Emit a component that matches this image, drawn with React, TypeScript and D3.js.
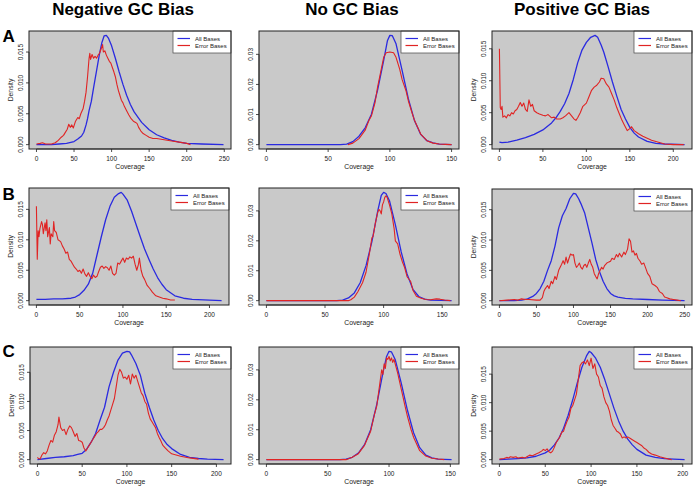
import React from "react";
import * as d3 from "d3";

type Pt = [number, number];

const COLUMN_TITLES = ["Negative GC Bias", "No GC Bias", "Positive GC Bias"];
const ROW_LABELS = ["A", "B", "C"];
const LEGEND_LABELS = ["All Bases", "Error Bases"];
const X_LABEL = "Coverage";
const Y_LABEL = "Density";

const X_TICKS_150 = [0, 50, 100, 150];
const X_TICKS_200 = [0, 50, 100, 150, 200];
const X_TICKS_250 = [0, 50, 100, 150, 200, 250];
const Y_TICKS_SMALL = [0, 0.005, 0.01, 0.015];
const Y_TICKS_LARGE = [0, 0.01, 0.02, 0.03];

// ---------- Row A ----------
const negA_all: Pt[] = [[0,0],[20,0],[30,0.0001],[40,0.0002],[50,0.0005],[55,0.0009],[60,0.0014],[63,0.002],[66,0.0032],[68,0.0042],[70,0.0055],[73,0.007],[76,0.0092],[80,0.012],[84,0.0148],[87,0.0165],[90,0.0176],[93,0.0177],[96,0.0172],[100,0.016],[105,0.014],[110,0.0118],[115,0.0098],[120,0.008],[125,0.0065],[130,0.0053],[140,0.0036],[150,0.0024],[160,0.0016],[170,0.0011],[180,0.0007],[190,0.0004],[200,0.0002],[220,0.0001],[249,0]];
const negA_err: Pt[] = [[0,0.0001],[5,0.0002],[8,0.0003],[12,0.0001],[20,0.0001],[25,0.0003],[29,0.0007],[33,0.0012],[36,0.0015],[38,0.0019],[41,0.0025],[43,0.0033],[45,0.0028],[47,0.0032],[49,0.0027],[52,0.0038],[55,0.0044],[57,0.0042],[59,0.005],[62,0.0058],[64,0.007],[66,0.0085],[68,0.011],[70,0.014],[71,0.0148],[72,0.0138],[74,0.0146],[76,0.014],[78,0.0143],[80,0.014],[82,0.0145],[84,0.0148],[86,0.0155],[88,0.0162],[89,0.015],[91,0.0152],[93,0.0145],[95,0.014],[97,0.0135],[99,0.0132],[101,0.0125],[103,0.0118],[105,0.011],[107,0.0098],[109,0.0088],[111,0.008],[113,0.0072],[115,0.0068],[117,0.0062],[120,0.0055],[123,0.0048],[126,0.0042],[129,0.0038],[132,0.0036],[134,0.0034],[136,0.0028],[139,0.0022],[142,0.0018],[146,0.0015],[150,0.0012],[155,0.001],[160,0.001],[170,0.0008],[180,0.0006],[190,0.0004],[200,0.0002],[205,0]];

const noA_all: Pt[] = [[0,0],[30,0],[60,0],[65,0.0002],[70,0.001],[75,0.0028],[80,0.0056],[85,0.01],[90,0.018],[95,0.028],[98,0.0345],[100,0.0363],[102,0.0362],[105,0.0335],[110,0.0245],[115,0.0152],[120,0.0079],[125,0.0034],[130,0.0013],[135,0.0006],[140,0.0002],[150,0]];
const noA_err: Pt[] = [[66,0],[70,0.0005],[75,0.002],[80,0.0048],[83,0.008],[85,0.0095],[88,0.014],[90,0.019],[93,0.025],[95,0.029],[97,0.0305],[100,0.0308],[103,0.0305],[105,0.029],[108,0.025],[110,0.0215],[113,0.018],[115,0.0145],[118,0.0105],[120,0.008],[125,0.0035],[130,0.0013],[135,0.0005],[140,0.0002],[145,0.0001],[150,0]];

const posA_all: Pt[] = [[0,0.0004],[3,0.0003],[10,0.0004],[20,0.0007],[30,0.0011],[40,0.0016],[50,0.0023],[60,0.0034],[65,0.0042],[70,0.0052],[75,0.0064],[80,0.008],[85,0.0102],[90,0.0128],[95,0.0148],[100,0.016],[105,0.0168],[110,0.0171],[113,0.0168],[117,0.0156],[120,0.0145],[125,0.0122],[130,0.0098],[135,0.0076],[140,0.0055],[145,0.004],[150,0.0027],[155,0.0018],[160,0.0012],[170,0.0005],[180,0.0002],[190,0.0001],[213,0]];
const posA_err: Pt[] = [[0,0.015],[1,0.0058],[2,0.0055],[3,0.006],[4,0.0043],[6,0.0045],[8,0.0042],[10,0.0047],[12,0.0045],[14,0.005],[16,0.0048],[18,0.0053],[20,0.0055],[22,0.006],[24,0.0066],[26,0.006],[28,0.0065],[30,0.0055],[32,0.0052],[34,0.007],[36,0.006],[38,0.0063],[40,0.0053],[43,0.005],[46,0.0048],[50,0.0046],[53,0.0045],[56,0.0047],[60,0.0042],[63,0.0043],[66,0.004],[70,0.004],[73,0.0042],[76,0.0045],[80,0.005],[83,0.0045],[86,0.004],[88,0.0038],[90,0.0042],[93,0.005],[96,0.006],[100,0.0065],[103,0.0075],[106,0.0085],[109,0.009],[112,0.0093],[115,0.0098],[117,0.0104],[120,0.0103],[123,0.0095],[126,0.009],[129,0.008],[132,0.007],[135,0.0058],[138,0.0048],[141,0.0038],[144,0.003],[147,0.0022],[150,0.0025],[152,0.0028],[155,0.0022],[160,0.0017],[165,0.0013],[170,0.001],[175,0.0007],[180,0.0005],[185,0.0003],[190,0.0001],[200,0],[212,0]];

// ---------- Row B ----------
const negB_all: Pt[] = [[0,0.0002],[10,0.0002],[20,0.0003],[30,0.0003],[40,0.0004],[45,0.0006],[50,0.001],[55,0.0017],[60,0.0027],[65,0.0045],[70,0.0075],[75,0.0105],[80,0.0133],[85,0.0155],[90,0.017],[95,0.0176],[98,0.0178],[100,0.0175],[105,0.0165],[110,0.0147],[115,0.0126],[120,0.0105],[125,0.0085],[130,0.0068],[135,0.0052],[140,0.0038],[145,0.0027],[150,0.0018],[160,0.0008],[170,0.0004],[180,0.0002],[200,0.0001],[214,0]];
const negB_err: Pt[] = [[0,0.0155],[1,0.0068],[2,0.0115],[3,0.0105],[4,0.0118],[6,0.013],[7,0.0125],[8,0.011],[10,0.0128],[11,0.0115],[12,0.0133],[13,0.0105],[15,0.012],[16,0.0093],[17,0.011],[19,0.0105],[20,0.013],[21,0.0115],[23,0.0112],[25,0.01],[28,0.0097],[30,0.009],[32,0.0085],[34,0.0078],[36,0.008],[38,0.0068],[40,0.0065],[42,0.006],[44,0.0055],[46,0.0052],[48,0.0048],[50,0.005],[52,0.0045],[54,0.0052],[56,0.0044],[58,0.004],[60,0.0046],[62,0.004],[64,0.0036],[66,0.0042],[68,0.0038],[70,0.004],[72,0.0048],[74,0.0055],[76,0.0057],[78,0.0053],[80,0.0056],[82,0.0054],[84,0.005],[86,0.0057],[88,0.0045],[90,0.0042],[92,0.0045],[94,0.0062],[96,0.006],[98,0.0065],[100,0.007],[102,0.0063],[104,0.007],[106,0.0068],[108,0.0072],[110,0.007],[112,0.0073],[114,0.006],[116,0.005],[118,0.006],[119,0.007],[121,0.005],[123,0.004],[125,0.0035],[128,0.0025],[131,0.002],[134,0.0014],[138,0.0008],[142,0.0006],[146,0.0004],[150,0.0003],[155,0.0001],[160,0.0001]];

const noB_all: Pt[] = [[0,0],[30,0],[60,0],[65,0.0002],[70,0.0009],[75,0.0026],[80,0.006],[85,0.0117],[90,0.0197],[95,0.03],[98,0.0352],[100,0.0362],[102,0.0358],[105,0.0334],[110,0.0254],[115,0.0163],[120,0.0089],[125,0.0038],[130,0.0014],[135,0.0005],[140,0.0002],[158,0]];
const noB_err: Pt[] = [[0,0],[30,0],[70,0],[72,0.0003],[75,0.0012],[78,0.003],[80,0.0045],[82,0.006],[85,0.0095],[88,0.016],[90,0.021],[91,0.0215],[93,0.026],[95,0.0295],[96,0.0305],[97,0.03],[98,0.029],[99,0.032],[100,0.033],[101,0.0345],[102,0.035],[103,0.0345],[105,0.032],[107,0.029],[109,0.024],[110,0.02],[112,0.019],[114,0.0155],[116,0.013],[118,0.011],[120,0.008],[121,0.0075],[123,0.0065],[125,0.0035],[128,0.0015],[132,0.0008],[136,0.0004],[140,0.0003],[145,0.0006],[148,0.0005],[152,0.0002],[157,0]];

const posB_all: Pt[] = [[0,0],[20,0],[30,0.0001],[38,0.0003],[45,0.0007],[50,0.0012],[55,0.002],[60,0.0032],[65,0.005],[70,0.0066],[75,0.009],[80,0.012],[85,0.014],[90,0.0152],[95,0.0168],[100,0.0177],[103,0.0176],[107,0.0168],[110,0.016],[115,0.0145],[120,0.012],[125,0.0095],[130,0.0068],[135,0.0048],[140,0.0032],[145,0.002],[150,0.0012],[155,0.0008],[160,0.0006],[170,0.0004],[180,0.0003],[200,0.0002],[220,0.0001],[250,0]];
const posB_err: Pt[] = [[0,0],[10,0.0001],[20,0.0002],[25,0.0001],[30,0.0003],[35,0.0002],[40,0.0002],[50,0.0001],[55,0.0001],[58,0.0005],[60,0.0015],[62,0.002],[65,0.0025],[67,0.002],[70,0.0032],[72,0.0028],[75,0.004],[77,0.0035],[80,0.005],[82,0.0055],[84,0.006],[86,0.0066],[88,0.006],[90,0.0072],[92,0.0062],[94,0.007],[96,0.0077],[98,0.0075],[100,0.0076],[102,0.0062],[104,0.0055],[106,0.0058],[108,0.0062],[110,0.0055],[112,0.0052],[114,0.0058],[116,0.006],[118,0.0055],[120,0.0062],[122,0.0068],[124,0.006],[126,0.0055],[128,0.0045],[130,0.004],[132,0.0036],[134,0.0045],[136,0.005],[138,0.0055],[140,0.0052],[142,0.0058],[145,0.0062],[148,0.0064],[150,0.0065],[152,0.007],[155,0.0068],[158,0.0076],[160,0.0072],[162,0.0078],[165,0.0072],[168,0.008],[170,0.0076],[173,0.0085],[175,0.0102],[177,0.0098],[179,0.008],[181,0.0082],[183,0.0075],[185,0.0078],[187,0.007],[190,0.0065],[192,0.006],[195,0.0062],[198,0.0052],[200,0.0045],[203,0.004],[206,0.0028],[210,0.0025],[213,0.0022],[216,0.0015],[220,0.0012],[223,0.0006],[226,0.0005],[230,0.0003],[235,0.0002],[240,0.0001],[245,0]];

// ---------- Row C ----------
const negC_all: Pt[] = [[0,0],[10,0.0002],[20,0.0004],[30,0.0005],[40,0.0007],[45,0.0009],[50,0.0011],[55,0.0018],[60,0.003],[65,0.0045],[70,0.0068],[75,0.009],[80,0.0125],[85,0.015],[90,0.0171],[95,0.0183],[100,0.0186],[103,0.0185],[105,0.018],[110,0.0165],[115,0.0145],[120,0.0114],[125,0.009],[130,0.0068],[135,0.005],[140,0.0036],[145,0.0026],[150,0.0019],[160,0.0009],[170,0.0004],[180,0.0002],[190,0.0001],[208,0]];
const negC_err: Pt[] = [[0,0.0004],[1,0.0002],[3,0.0001],[5,0.0008],[7,0.0012],[9,0.001],[11,0.0015],[13,0.0025],[15,0.0033],[17,0.003],[19,0.0042],[21,0.0048],[23,0.006],[24,0.0073],[26,0.0055],[28,0.005],[30,0.0052],[32,0.0043],[34,0.0052],[36,0.0058],[38,0.0055],[40,0.0048],[42,0.004],[44,0.0045],[46,0.0033],[48,0.0032],[50,0.003],[52,0.002],[54,0.0015],[56,0.002],[58,0.0025],[60,0.003],[62,0.0035],[64,0.004],[66,0.0045],[68,0.0048],[70,0.0052],[72,0.0052],[74,0.0055],[76,0.006],[78,0.0068],[80,0.0075],[82,0.0085],[84,0.0095],[86,0.0105],[88,0.0125],[90,0.0145],[92,0.0155],[94,0.015],[96,0.014],[98,0.0142],[100,0.0138],[102,0.0145],[104,0.013],[106,0.0147],[108,0.014],[110,0.0145],[112,0.0135],[114,0.0125],[116,0.0115],[118,0.011],[120,0.01],[122,0.0095],[124,0.008],[126,0.007],[128,0.0065],[130,0.006],[132,0.0055],[134,0.0045],[136,0.0038],[138,0.0032],[140,0.0025],[143,0.002],[146,0.0015],[150,0.001],[155,0.0008],[160,0.0006],[170,0.0003],[180,0.0001]];

const noC_all: Pt[] = [[0,0],[30,0],[60,0],[65,0.0002],[70,0.0008],[75,0.0022],[80,0.005],[85,0.01],[90,0.0185],[95,0.029],[98,0.0345],[100,0.0362],[102,0.036],[105,0.0335],[110,0.0255],[115,0.0165],[120,0.009],[125,0.004],[130,0.0015],[135,0.0006],[140,0.0002],[145,0.0001],[151,0]];
const noC_err: Pt[] = [[0,0],[30,0],[65,0],[70,0.0008],[75,0.002],[80,0.0048],[85,0.0095],[88,0.015],[90,0.018],[92,0.024],[93,0.027],[94,0.03],[95,0.0285],[96,0.032],[97,0.0305],[98,0.034],[99,0.0335],[100,0.0345],[101,0.033],[102,0.034],[103,0.0325],[104,0.0335],[105,0.032],[107,0.029],[110,0.0235],[113,0.018],[115,0.0145],[118,0.01],[120,0.0075],[125,0.003],[130,0.0012],[135,0.0005],[140,0.0002],[145,0]];

const posC_all: Pt[] = [[0,0],[10,0.0001],[20,0.0002],[30,0.0003],[40,0.0006],[50,0.0012],[55,0.0017],[60,0.0026],[65,0.0038],[70,0.0055],[75,0.0078],[80,0.0105],[85,0.0135],[90,0.0162],[95,0.0182],[98,0.019],[100,0.0188],[105,0.0178],[110,0.0162],[115,0.014],[120,0.0115],[125,0.009],[130,0.0068],[135,0.005],[140,0.0036],[145,0.0026],[150,0.0018],[160,0.0008],[170,0.0004],[180,0.0002],[190,0.0001],[202,0]];
const posC_err: Pt[] = [[0,0.0001],[5,0.0002],[8,0.0004],[10,0.0003],[12,0.0005],[15,0.0004],[18,0.0005],[20,0.0003],[25,0.0004],[28,0.0003],[30,0.0005],[33,0.0008],[36,0.0007],[40,0.001],[43,0.0012],[46,0.0015],[48,0.0018],[50,0.0016],[52,0.0019],[54,0.0014],[56,0.0012],[58,0.0015],[60,0.0022],[62,0.003],[64,0.0035],[66,0.004],[68,0.0048],[70,0.005],[72,0.006],[74,0.0068],[76,0.0075],[78,0.009],[80,0.0095],[82,0.0105],[84,0.0115],[86,0.014],[88,0.0165],[90,0.017],[92,0.0172],[94,0.0168],[96,0.0175],[98,0.0165],[100,0.0178],[102,0.016],[104,0.0168],[106,0.015],[108,0.0145],[110,0.013],[112,0.0125],[114,0.011],[116,0.01],[118,0.0095],[120,0.0085],[122,0.007],[124,0.006],[126,0.0055],[128,0.005],[130,0.0048],[132,0.0045],[134,0.0038],[136,0.004],[138,0.0038],[140,0.004],[142,0.0038],[145,0.0035],[148,0.0032],[150,0.003],[152,0.0028],[155,0.0025],[158,0.002],[160,0.0018],[163,0.0013],[166,0.001],[170,0.0008],[175,0.0005],[180,0.0003],[185,0.0001],[188,0]];

// ---------- layout ----------
type Box = { x0: number; x1: number; y0: number; y1: number };
type PanelSpec = {
  all: Pt[];
  err: Pt[];
  xTicks: number[];
  yTicks: number[];
  yFmt: string;
  box: Box;
  density: boolean;
};

const PANELS: PanelSpec[] = [
  { all: negA_all, err: negA_err, xTicks: X_TICKS_250, yTicks: Y_TICKS_SMALL, yFmt: ".3f", box: { x0: 29, x1: 231, y0: 31, y1: 149 }, density: true },
  { all: noA_all, err: noA_err, xTicks: X_TICKS_150, yTicks: Y_TICKS_LARGE, yFmt: ".2f", box: { x0: 259, x1: 459, y0: 31, y1: 149 }, density: false },
  { all: posA_all, err: posA_err, xTicks: X_TICKS_200, yTicks: Y_TICKS_SMALL, yFmt: ".3f", box: { x0: 492, x1: 692, y0: 31, y1: 149 }, density: true },
  { all: negB_all, err: negB_err, xTicks: X_TICKS_200, yTicks: Y_TICKS_SMALL, yFmt: ".3f", box: { x0: 29, x1: 229, y0: 188, y1: 305 }, density: true },
  { all: noB_all, err: noB_err, xTicks: X_TICKS_150, yTicks: Y_TICKS_LARGE, yFmt: ".2f", box: { x0: 259, x1: 459, y0: 188, y1: 305 }, density: false },
  { all: posB_all, err: posB_err, xTicks: X_TICKS_250, yTicks: Y_TICKS_SMALL, yFmt: ".3f", box: { x0: 492, x1: 692, y0: 189, y1: 305 }, density: true },
  { all: negC_all, err: negC_err, xTicks: X_TICKS_200, yTicks: Y_TICKS_SMALL, yFmt: ".3f", box: { x0: 30, x1: 231, y0: 347, y1: 464 }, density: true },
  { all: noC_all, err: noC_err, xTicks: X_TICKS_150, yTicks: Y_TICKS_LARGE, yFmt: ".2f", box: { x0: 259, x1: 459, y0: 347, y1: 464 }, density: false },
  { all: posC_all, err: posC_err, xTicks: X_TICKS_200, yTicks: Y_TICKS_SMALL, yFmt: ".3f", box: { x0: 492, x1: 692, y0: 347, y1: 464 }, density: true },
];

const TITLE_X = [123, 352, 582];
const ROW_LABEL_Y = [42, 200, 357];

const FONT = "'Liberation Sans', Arial, Helvetica, sans-serif";
const BLUE = "#2a2ae0";
const RED = "#e02424";
const BG = "#c9c9c9";
const INK = "#222";

function padded(vals: number[]): [number, number] {
  const [lo, hi] = d3.extent(vals) as [number, number];
  const r = hi - lo;
  return [lo - 0.04 * r, hi + 0.04 * r];
}

function Panel({ p }: { p: PanelSpec }) {
  const { box } = p;
  const both = [...p.all, ...p.err];
  const x = d3.scaleLinear().domain(padded(both.map((d) => d[0]))).range([box.x0, box.x1]);
  const y = d3.scaleLinear().domain(padded(both.map((d) => d[1]))).range([box.y1, box.y0]);
  const line = d3
    .line<Pt>()
    .x((d) => x(d[0]))
    .y((d) => y(d[1]));
  const fmt = d3.format(p.yFmt);
  const xa0 = x(p.xTicks[0]);
  const xa1 = x(p.xTicks[p.xTicks.length - 1]);
  const ya0 = y(p.yTicks[0]);
  const ya1 = y(p.yTicks[p.yTicks.length - 1]);
  const lgW = 58;
  const lgH = 22;
  const lgX = box.x1 - lgW;
  const lgY = box.y0;
  return (
    <g>
      <rect x={box.x0} y={box.y0} width={box.x1 - box.x0} height={box.y1 - box.y0} fill={BG} />
      <path d={line(p.all) || ""} fill="none" stroke={BLUE} strokeWidth={1.3} strokeLinejoin="round" />
      <path d={line(p.err) || ""} fill="none" stroke={RED} strokeWidth={1.1} strokeLinejoin="round" />
      {/* legend */}
      <rect x={lgX} y={lgY} width={lgW} height={lgH} fill="#fff" stroke="#444" strokeWidth={0.7} />
      {LEGEND_LABELS.map((lab, i) => (
        <g key={lab}>
          <line x1={lgX + 4.5} x2={lgX + 17} y1={lgY + 7.5 + i * 7} y2={lgY + 7.5 + i * 7} stroke={i === 0 ? BLUE : RED} strokeWidth={1.2} />
          <text x={lgX + 22} y={lgY + 9.6 + i * 7} fontSize={6} fontFamily={FONT} fill="#222">
            {lab}
          </text>
        </g>
      ))}
      <rect x={box.x0} y={box.y0} width={box.x1 - box.x0} height={box.y1 - box.y0} fill="none" stroke={INK} strokeWidth={1} />
      {/* x axis */}
      <line x1={xa0} x2={xa1} y1={box.y1} y2={box.y1} stroke={INK} strokeWidth={0.8} />
      {p.xTicks.map((t) => (
        <g key={"x" + t}>
          <line x1={x(t)} x2={x(t)} y1={box.y1} y2={box.y1 + 3} stroke={INK} strokeWidth={0.8} />
          <text x={x(t)} y={box.y1 + 12.3} fontSize={6.5} fontFamily={FONT} textAnchor="middle" fill="#222">
            {t}
          </text>
        </g>
      ))}
      <text x={(box.x0 + box.x1) / 2} y={box.y1 + 19.8} fontSize={6.8} fontFamily={FONT} textAnchor="middle" fill="#222">
        {X_LABEL}
      </text>
      {/* y axis */}
      <line x1={box.x0} x2={box.x0} y1={ya0} y2={ya1} stroke={INK} strokeWidth={0.8} />
      {p.yTicks.map((t) => (
        <g key={"y" + t}>
          <line x1={box.x0} x2={box.x0 - 3} y1={y(t)} y2={y(t)} stroke={INK} strokeWidth={0.8} />
          <text
            transform={`translate(${box.x0 - 6},${y(t)}) rotate(-90)`}
            fontSize={6.5}
            fontFamily={FONT}
            textAnchor="middle"
            fill="#222"
          >
            {fmt(t)}
          </text>
        </g>
      ))}
      {p.density && (
        <text
          transform={`translate(${box.x0 - 16},${(box.y0 + box.y1) / 2}) rotate(-90)`}
          fontSize={6.8}
          fontFamily={FONT}
          textAnchor="middle"
          fill="#222"
        >
          {Y_LABEL}
        </text>
      )}
    </g>
  );
}

export default function App() {
  return (
    <svg
      width={697}
      height={489}
      viewBox="0 0 697 489"
      style={{ position: "absolute", left: 0, top: 0, background: "#fff" }}
    >
      <rect x={0} y={0} width={697} height={489} fill="#fff" />
      {COLUMN_TITLES.map((t, i) => (
        <text key={t} x={TITLE_X[i]} y={15} fontSize={17} fontWeight="bold" fontFamily={FONT} textAnchor="middle" fill="#000">
          {t}
        </text>
      ))}
      {ROW_LABELS.map((t, i) => (
        <text key={t} x={2.5} y={ROW_LABEL_Y[i]} fontSize={17} fontWeight="bold" fontFamily={FONT} fill="#000">
          {t}
        </text>
      ))}
      {PANELS.map((p, i) => (
        <Panel key={i} p={p} />
      ))}
    </svg>
  );
}
